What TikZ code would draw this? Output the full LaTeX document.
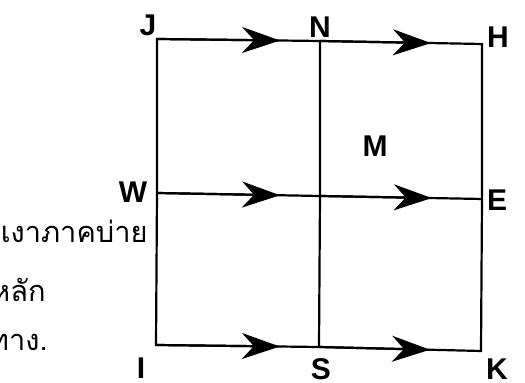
\documentclass[tikz,border=0pt]{standalone}
\usepackage{fontspec}
\setmainfont{Liberation Sans}
\newfontfamily\thaifont[Script=Thai]{Loma}
\usetikzlibrary{arrows.meta, calc}

\tikzset{
  flow/.style={line width=1.1pt, -{Stealth[length=19pt, width=13pt, inset=6pt]}},
  edge/.style={line width=1.1pt},
  pt/.style={font=\fontsize{15}{17}\selectfont\bfseries, inner sep=0pt},
  thai/.style={font=\thaifont\fontsize{14.5}{17}\selectfont, inner sep=0pt, anchor=east}
}

\begin{document}
\begin{tikzpicture}[x=0.5pt, y=-0.5pt]
\useasboundingbox (0,0) rectangle (525,383);
  % corners and crossings
  \coordinate (J) at (157,39);
  \coordinate (N) at (320,41);
  \coordinate (H) at (482,44);
  \coordinate (W) at (157,193);
  \coordinate (C) at (320,196);
  \coordinate (E) at (482,199);
  \coordinate (I) at (156,345);
  \coordinate (S) at (319,347);
  \coordinate (K) at (481,351);
  % grid
  \draw[edge] (J) -- (N) -- (H) -- (E) -- (K) -- (S) -- (I) -- (W) -- cycle;
  \draw[edge] (W) -- (C) -- (E);
  \draw[edge] (N) -- (C) -- (S);
  % arrows
  \draw[flow] (J) -- ($(J)!0.755!(N)$);
  \draw[flow] (N) -- ($(N)!0.685!(H)$);
  \draw[flow] (W) -- ($(W)!0.755!(C)$);
  \draw[flow] (C) -- ($(C)!0.69!(E)$);
  \draw[flow] (I) -- ($(I)!0.76!(S)$);
  \draw[flow] (S) -- ($(S)!0.685!(K)$);
  % letters
  \node[pt] (lJ) at (148,25) {J};
  \node[pt] (lN) at (320,27) {N};
  \node[pt] (lH) at (498,37) {H};
  \node[pt] (lM) at (375,146) {M};
  \node[pt] (lW) at (133,192) {W};
  \node[pt] (lE) at (497,200) {E};
  \node[pt] (lI) at (141,368) {I};
  \node[pt] (lS) at (321,369) {S};
  \node[pt] (lK) at (497,369) {K};
  % thai text
  \node[thai] (t1) at (148,231) {เงาภาคบ่าย};
  \node[thai] (t2) at (46,290) {หลัก};
  \node[thai] (t3) at (48,342) {ทาง.};
\end{tikzpicture}
\end{document}
